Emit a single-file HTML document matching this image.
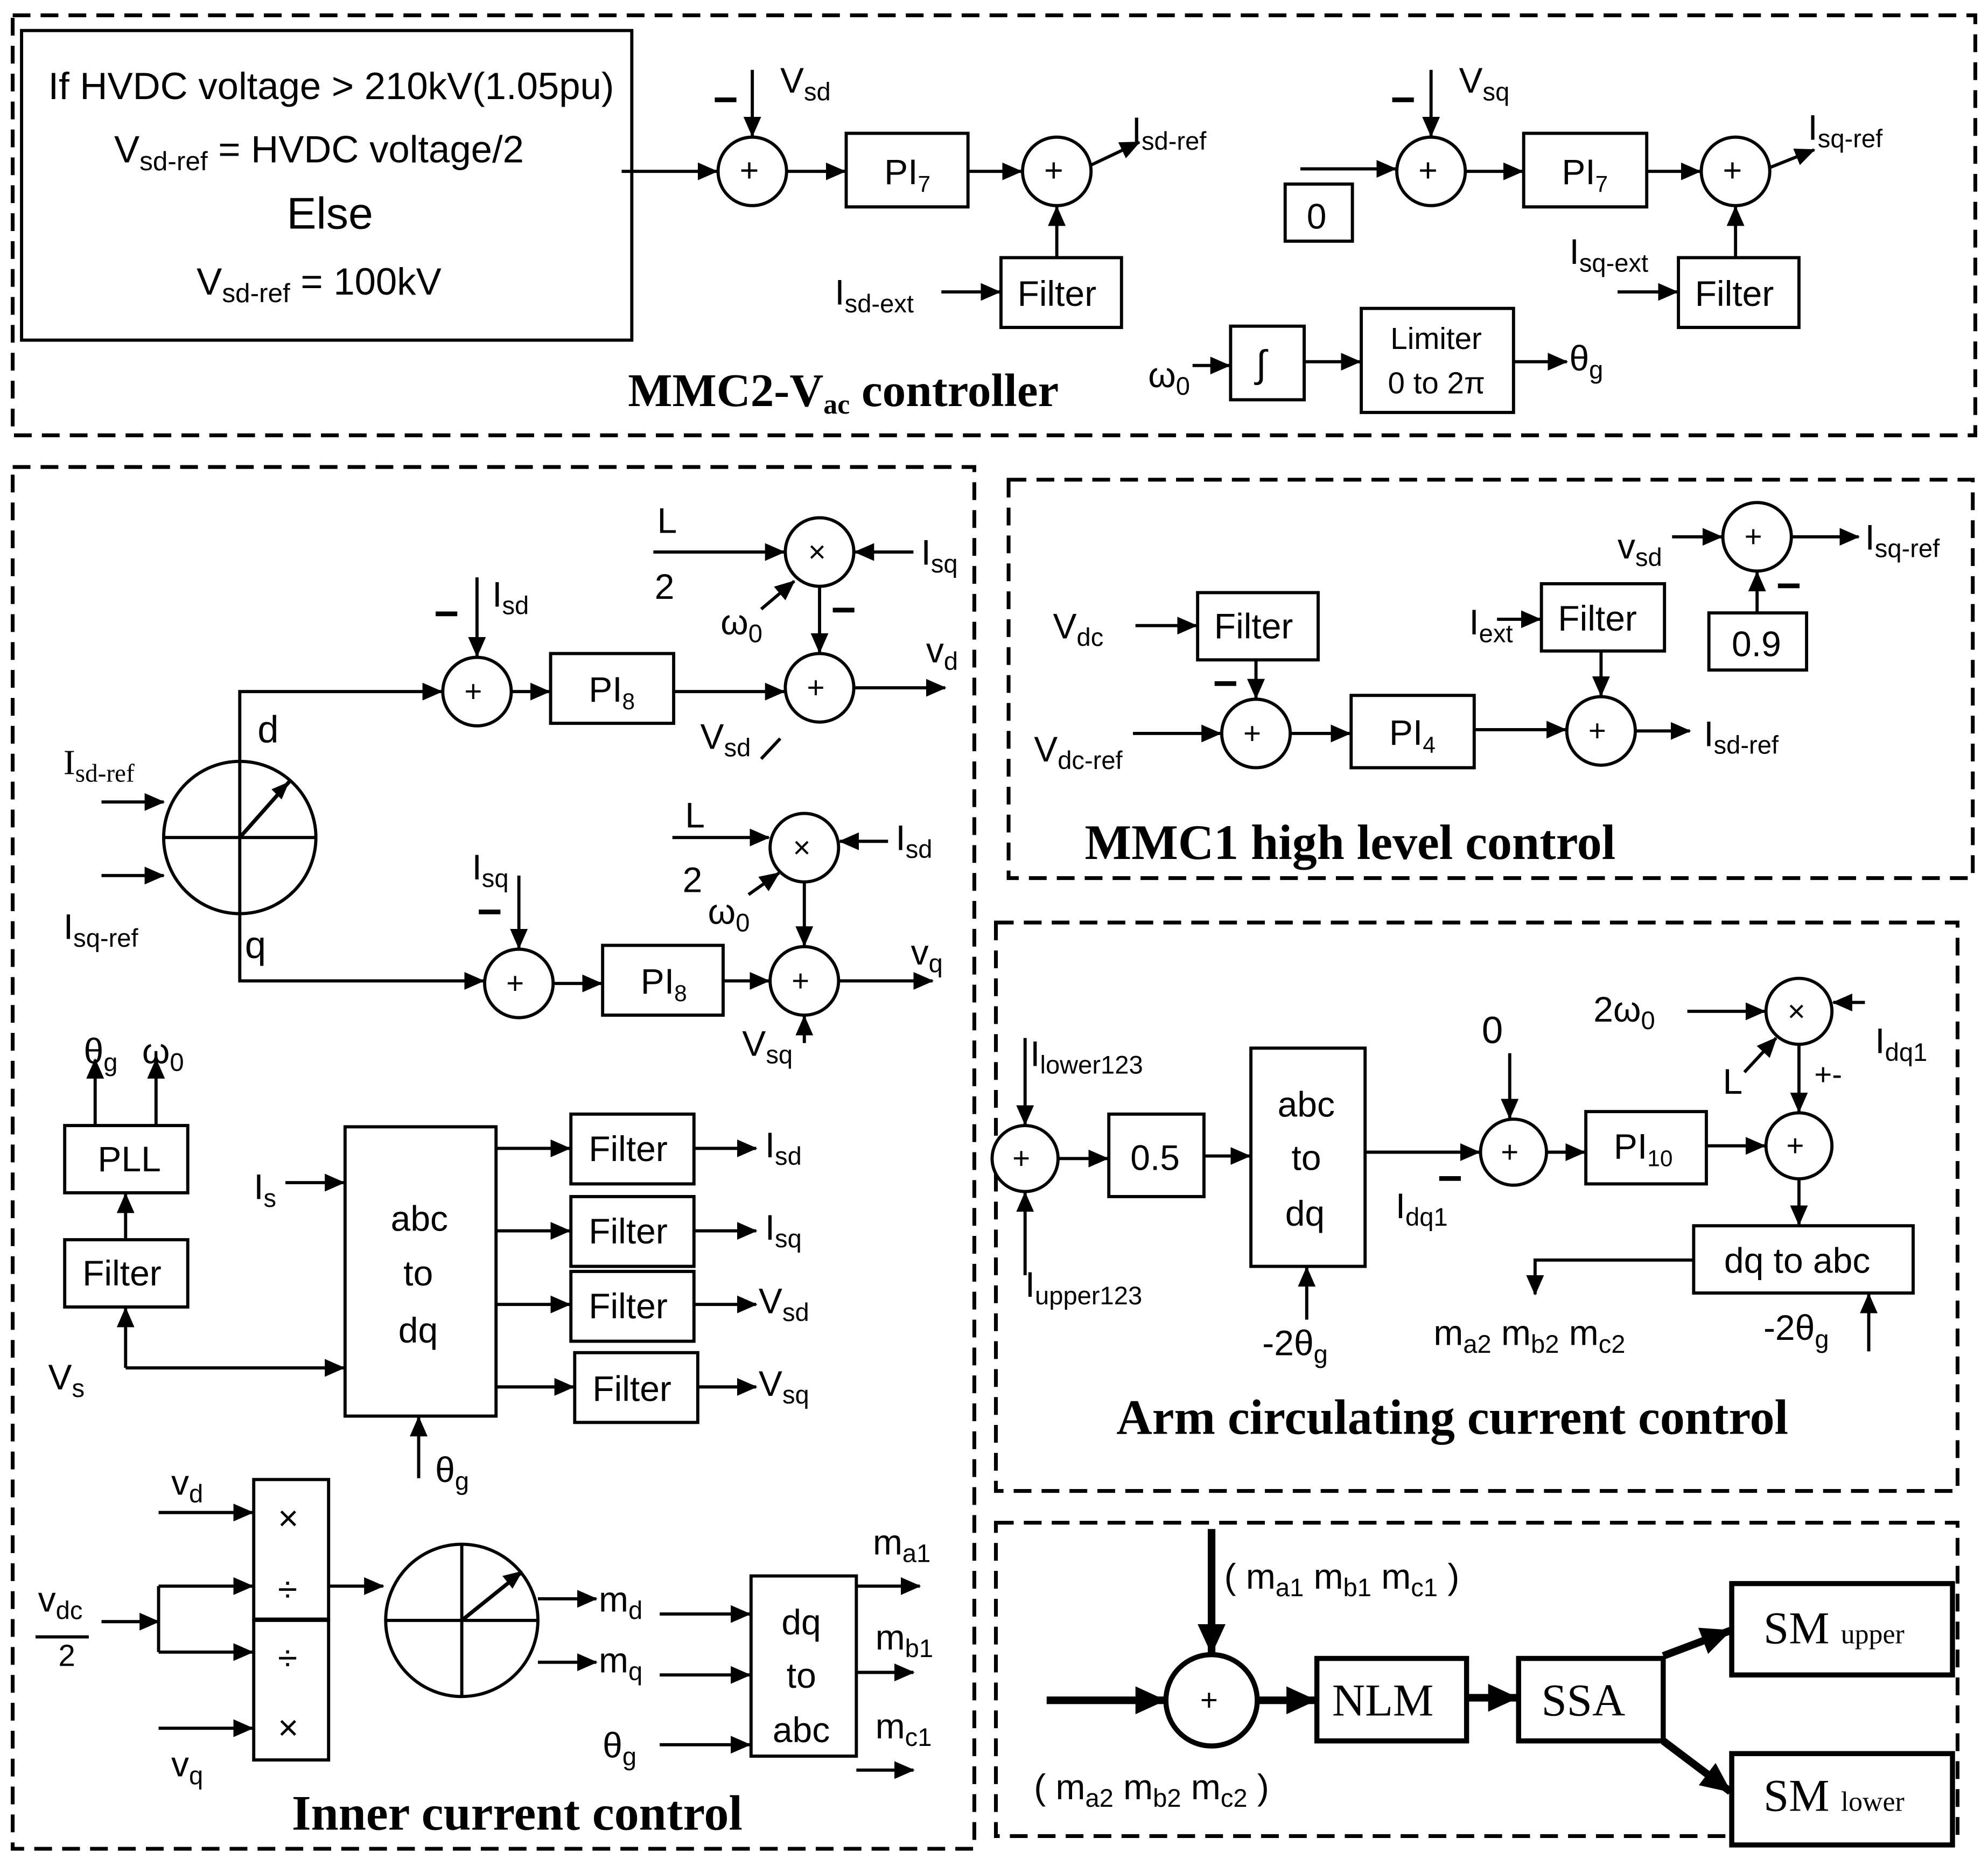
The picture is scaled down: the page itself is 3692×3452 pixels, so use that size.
<!DOCTYPE html>
<html><head><meta charset="utf-8"><style>html,body{margin:0;padding:0;background:#fff}svg{display:block}</style></head>
<body>
<svg xmlns="http://www.w3.org/2000/svg" width="3692" height="3452" viewBox="0 0 1567 1465">
<defs>
<marker id="a" markerWidth="16" markerHeight="14" refX="15" refY="7" orient="auto" markerUnits="userSpaceOnUse"><path d="M0,0 L16,7 L0,14 z" fill="#000"/></marker>
<marker id="b" markerWidth="24" markerHeight="22" refX="23" refY="11" orient="auto" markerUnits="userSpaceOnUse"><path d="M0,0 L24,11 L0,22 z" fill="#000"/></marker>
</defs>
<rect width="1567" height="1465" fill="#fff"/>
<g fill="none" stroke="#000" stroke-width="3" stroke-dasharray="14,8">
<rect x="10" y="12" width="1547" height="331"/>
<rect x="10" y="368" width="758" height="1089"/>
<rect x="795" y="378" width="760" height="314"/>
<rect x="785" y="727" width="758" height="448"/>
<rect x="785" y="1200" width="758" height="247"/>
</g>
<g fill="#fff" stroke="#000" stroke-width="2.5">
<rect x="17" y="24" width="481" height="244"/>
<circle cx="593" cy="135" r="27"/><rect x="667" y="105" width="96" height="58"/><circle cx="833" cy="135" r="27"/><rect x="789" y="203" width="95" height="55"/>
<circle cx="1128" cy="135" r="27"/><rect x="1013" y="145" width="53" height="45"/><rect x="1201" y="105" width="97" height="58"/><circle cx="1368" cy="135" r="27"/><rect x="1323" y="203" width="95" height="55"/>
<rect x="970" y="257" width="58" height="58"/><rect x="1073" y="243" width="120" height="82"/>
<circle cx="189" cy="660" r="60"/>
<circle cx="376" cy="545" r="27"/><rect x="434" y="515" width="97" height="55"/><circle cx="646" cy="542" r="27"/><circle cx="646" cy="435" r="27"/>
<circle cx="409" cy="775" r="27"/><rect x="475" y="745" width="95" height="55"/><circle cx="634" cy="773" r="27"/><circle cx="634" cy="668" r="27"/>
<rect x="51" y="887" width="97" height="53"/><rect x="51" y="977" width="97" height="53"/><rect x="272" y="888" width="119" height="228"/>
<rect x="450" y="878" width="97" height="55"/><rect x="450" y="943" width="97" height="55"/><rect x="450" y="1002" width="97" height="55"/><rect x="453" y="1066" width="97" height="55"/>
<rect x="200" y="1166" width="59" height="110"/><rect x="200" y="1277" width="59" height="110"/>
<circle cx="364" cy="1277" r="60"/><rect x="592" y="1242" width="83" height="142"/>
<rect x="944" y="467" width="95" height="53"/><circle cx="990" cy="578" r="27"/><rect x="1065" y="548" width="97" height="57"/><circle cx="1262" cy="576" r="27"/>
<rect x="1215" y="460" width="97" height="53"/><circle cx="1385" cy="423" r="27"/><rect x="1347" y="483" width="77" height="45"/>
<circle cx="808" cy="913" r="26"/><rect x="874" y="878" width="75" height="65"/><rect x="986" y="826" width="90" height="172"/>
<circle cx="1193" cy="908" r="26"/><rect x="1250" y="876" width="95" height="57"/><circle cx="1418" cy="903" r="26"/><circle cx="1418" cy="797" r="26"/><rect x="1335" y="966" width="173" height="53"/>
</g>
<g fill="#fff" stroke="#000" stroke-width="4">
<circle cx="955" cy="1340" r="36"/><rect x="1038" y="1307" width="118" height="65"/><rect x="1197" y="1307" width="114" height="65"/><rect x="1365" y="1248" width="174" height="72"/><rect x="1365" y="1382" width="174" height="72"/>
</g>
<g fill="none" stroke="#000" stroke-width="2.5" marker-end="url(#a)">
<path d="M490,135H565"/><path d="M593,55V107"/><path d="M620,135H666"/><path d="M763,135H805"/><path d="M860,130L898,112"/><path d="M833,203V163"/><path d="M742,230H788"/>
<path d="M1025,133H1100"/><path d="M1128,55V107"/><path d="M1155,135H1200"/><path d="M1298,135H1340"/><path d="M1395,132L1430,118"/><path d="M1368,203V163"/><path d="M1275,230H1322"/>
<path d="M940,288H969"/><path d="M1028,285H1072"/><path d="M1193,285H1235"/>
<path d="M80,632H129"/><path d="M80,690H129"/><path d="M189,600V545H348"/><path d="M189,720V773H381"/>
<path d="M376,455V517"/><path d="M403,545H433"/><path d="M531,545H618"/><path d="M673,542H745"/>
<path d="M515,435H618"/><path d="M720,435H674"/><path d="M600,480L626,458"/><path d="M646,462V514"/>
<path d="M409,690V747"/><path d="M436,775H474"/><path d="M570,773H606"/><path d="M661,773H735"/><path d="M634,822V801"/>
<path d="M530,660H606"/><path d="M700,663H662"/><path d="M590,705L614,688"/><path d="M634,695V745"/>
<path d="M75,887V835"/><path d="M123,887V835"/><path d="M99,977V941"/><path d="M99,1078V1031"/><path d="M99,1078H271"/>
<path d="M225,932H271"/><path d="M330,1165V1117"/>
<path d="M391,905H449"/><path d="M547,905H596"/><path d="M391,970H449"/><path d="M547,970H596"/><path d="M391,1028H449"/><path d="M547,1028H596"/><path d="M391,1093H452"/><path d="M550,1093H596"/>
<path d="M125,1192H199"/><path d="M125,1362H199"/><path d="M125,1250H199"/><path d="M125,1302H199"/><path d="M259,1250H302"/>
<path d="M80,1278H125"/>
<path d="M424,1260H470"/><path d="M424,1310H470"/><path d="M520,1272H591"/><path d="M520,1320H591"/><path d="M520,1375H591"/>
<path d="M675,1250H725"/><path d="M675,1318H720"/><path d="M675,1395H720"/>
<path d="M895,493H943"/><path d="M990,520V550"/><path d="M893,578H962"/><path d="M1017,578H1064"/><path d="M1162,575H1234"/><path d="M1289,576H1332"/>
<path d="M1180,488H1214"/><path d="M1262,513V548"/><path d="M1318,423H1357"/><path d="M1412,423H1465"/><path d="M1385,483V451"/>
<path d="M808,818V886"/><path d="M808,1005V940"/><path d="M834,913H873"/><path d="M949,911H985"/><path d="M1030,1040V999"/><path d="M1076,908H1166"/>
<path d="M1190,830V881"/><path d="M1220,908H1249"/><path d="M1345,903H1391"/><path d="M1330,797H1391"/><path d="M1470,790H1445"/><path d="M1375,845L1400,818"/><path d="M1418,823V876"/><path d="M1418,930V965"/>
<path d="M1335,993H1210V1020"/><path d="M1473,1065V1020"/>
</g>
<g fill="none" stroke="#000" stroke-width="6" marker-end="url(#b)">
<path d="M955,1205V1303"/><path d="M825,1340H918"/><path d="M991,1340H1037"/><path d="M1156,1338H1196"/><path d="M1311,1305L1364,1285"/><path d="M1311,1372L1364,1412"/>
</g>
<g fill="none" stroke="#000" stroke-width="2.5">
<path d="M129,660H249M189,600V720"/><path d="M304,1277H424M364,1217V1337"/>
<path d="M125,1250V1302"/><path d="M28,1290H70"/><path d="M600,598L615,582"/>
</g>
<g stroke="#000" stroke-width="3"><path d="M189,660L228,616"/><path d="M364,1277L410,1240"/></g>
<g fill="#000"><path d="M228,616L214,622L222,630z"/><path d="M412,1238L396,1242L404,1252z"/></g>
<g font-family="Liberation Sans, sans-serif" font-size="28" fill="#000">
<g font-size="30">
<text x="38" y="78">If HVDC voltage &gt; 210kV(1.05pu)</text>
<text x="90" y="128">V<tspan font-size="21" dy="6">sd-ref</tspan><tspan dy="-6"> = HVDC voltage/2</tspan></text>
<text x="226" y="180" font-size="35">Else</text>
<text x="155" y="232">V<tspan font-size="21" dy="6">sd-ref</tspan><tspan dy="-6"> = 100kV</tspan></text>
</g>
<text x="583" y="143" font-size="26">+</text><text x="823" y="143" font-size="26">+</text><text x="1118" y="143" font-size="26">+</text><text x="1358" y="143" font-size="26">+</text>
<text x="562" y="90" font-size="34" font-weight="bold">−</text><text x="1096" y="90" font-size="34" font-weight="bold">−</text>
<text x="615" y="73">V<tspan font-size="20" dy="6">sd</tspan></text>
<text x="697" y="145">PI<tspan font-size="18" dy="6">7</tspan></text>
<text x="892" y="112">I<tspan font-size="20" dy="6">sd-ref</tspan></text>
<text x="802" y="241">Filter</text>
<text x="658" y="240">I<tspan font-size="20" dy="6">sd-ext</tspan></text>
<text x="1150" y="73">V<tspan font-size="20" dy="6">sq</tspan></text>
<text x="1030" y="180">0</text>
<text x="1231" y="145">PI<tspan font-size="18" dy="6">7</tspan></text>
<text x="1425" y="110">I<tspan font-size="20" dy="6">sq-ref</tspan></text>
<text x="1336" y="241">Filter</text>
<text x="1237" y="208">I<tspan font-size="20" dy="6">sq-ext</tspan></text>
<text x="905" y="305">ω<tspan font-size="20" dy="6">0</tspan></text>
<text x="990" y="297" font-size="30">∫</text>
<text x="1096" y="275" font-size="24">Limiter</text><text x="1094" y="310" font-size="24">0 to 2π</text>
<text x="1237" y="292">θ<tspan font-size="20" dy="6">g</tspan></text>
<text x="495" y="320" font-family="Liberation Serif, serif" font-weight="bold" font-size="37">MMC2-V<tspan font-size="22" dy="6">ac</tspan><tspan dy="-6">  controller</tspan></text>

<text x="50" y="610" font-family="Liberation Serif, serif">I<tspan font-size="20" dy="6">sd-ref</tspan></text>
<text x="50" y="740">I<tspan font-size="20" dy="6">sq-ref</tspan></text>
<text x="203" y="585" font-size="30">d</text><text x="193" y="755" font-size="30">q</text>
<text x="366" y="553" font-size="24">+</text><text x="636" y="550" font-size="24">+</text><text x="637" y="443" font-size="24">×</text>
<text x="342" y="495" font-size="34" font-weight="bold">−</text><text x="655" y="492" font-size="34" font-weight="bold">−</text>
<text x="388" y="478">I<tspan font-size="20" dy="6">sd</tspan></text>
<text x="464" y="553">PI<tspan font-size="18" dy="6">8</tspan></text>
<text x="730" y="522">v<tspan font-size="20" dy="6">d</tspan></text>
<text x="552" y="590">V<tspan font-size="20" dy="6">sd</tspan></text>
<text x="518" y="420">L</text><text x="516" y="472">2</text>
<text x="726" y="445">I<tspan font-size="20" dy="6">sq</tspan></text>
<text x="568" y="500">ω<tspan font-size="20" dy="6">0</tspan></text>
<text x="399" y="783" font-size="24">+</text><text x="624" y="781" font-size="24">+</text><text x="625" y="676" font-size="24">×</text>
<text x="376" y="730" font-size="34" font-weight="bold">−</text>
<text x="372" y="693">I<tspan font-size="20" dy="6">sq</tspan></text>
<text x="505" y="783">PI<tspan font-size="18" dy="6">8</tspan></text>
<text x="718" y="760">v<tspan font-size="20" dy="6">q</tspan></text>
<text x="585" y="832">V<tspan font-size="20" dy="6">sq</tspan></text>
<text x="540" y="652">L</text><text x="538" y="703">2</text>
<text x="706" y="670">I<tspan font-size="20" dy="6">sd</tspan></text>
<text x="558" y="728">ω<tspan font-size="20" dy="6">0</tspan></text>
<text x="66" y="838">θ<tspan font-size="20" dy="6">g</tspan></text><text x="112" y="838">ω<tspan font-size="20" dy="6">0</tspan></text>
<text x="77" y="923">PLL</text><text x="65" y="1013">Filter</text>
<text x="38" y="1095">V<tspan font-size="20" dy="6">s</tspan></text>
<text x="200" y="945">I<tspan font-size="20" dy="6">s</tspan></text>
<text x="308" y="970">abc</text><text x="318" y="1013">to</text><text x="314" y="1058">dq</text>
<text x="343" y="1168">θ<tspan font-size="20" dy="6">g</tspan></text>
<text x="464" y="915">Filter</text><text x="464" y="980">Filter</text><text x="464" y="1039">Filter</text><text x="467" y="1104">Filter</text>
<text x="603" y="912">I<tspan font-size="20" dy="6">sd</tspan></text><text x="603" y="977">I<tspan font-size="20" dy="6">sq</tspan></text>
<text x="598" y="1035">V<tspan font-size="20" dy="6">sd</tspan></text><text x="598" y="1100">V<tspan font-size="20" dy="6">sq</tspan></text>
<text x="135" y="1178">v<tspan font-size="20" dy="6">d</tspan></text><text x="135" y="1400">v<tspan font-size="20" dy="6">q</tspan></text>
<text x="30" y="1270">v<tspan font-size="20" dy="6">dc</tspan></text><text x="46" y="1313" font-size="24">2</text>
<text x="219" y="1206">×</text><text x="219" y="1262">÷</text><text x="219" y="1316">÷</text><text x="219" y="1371">×</text>
<text x="472" y="1270">m<tspan font-size="20" dy="6">d</tspan></text><text x="472" y="1318">m<tspan font-size="20" dy="6">q</tspan></text>
<text x="475" y="1385">θ<tspan font-size="20" dy="6">g</tspan></text>
<text x="616" y="1288">dq</text><text x="620" y="1330">to</text><text x="609" y="1373">abc</text>
<text x="688" y="1225">m<tspan font-size="20" dy="6">a1</tspan></text><text x="690" y="1300">m<tspan font-size="20" dy="6">b1</tspan></text><text x="690" y="1370">m<tspan font-size="20" dy="6">c1</tspan></text>
<text x="230" y="1442" font-family="Liberation Serif, serif" font-weight="bold" font-size="39">Inner current control</text>

<text x="830" y="503">V<tspan font-size="20" dy="6">dc</tspan></text>
<text x="957" y="503">Filter</text>
<text x="956" y="550" font-size="34" font-weight="bold">−</text>
<text x="815" y="600">V<tspan font-size="20" dy="6">dc-ref</tspan></text>
<text x="980" y="586" font-size="24">+</text><text x="1252" y="584" font-size="24">+</text><text x="1375" y="431" font-size="24">+</text>
<text x="1095" y="587">PI<tspan font-size="18" dy="6">4</tspan></text>
<text x="1343" y="588">I<tspan font-size="20" dy="6">sd-ref</tspan></text>
<text x="1158" y="500">I<tspan font-size="20" dy="6">ext</tspan></text>
<text x="1228" y="497">Filter</text>
<text x="1275" y="440">v<tspan font-size="20" dy="6">sd</tspan></text>
<text x="1470" y="433">I<tspan font-size="20" dy="6">sq-ref</tspan></text>
<text x="1365" y="517">0.9</text>
<text x="1400" y="473" font-size="34" font-weight="bold">−</text>
<text x="855" y="677" font-family="Liberation Serif, serif" font-weight="bold" font-size="39">MMC1 high level control</text>

<text x="812" y="840">I<tspan font-size="20" dy="6">lower123</tspan></text>
<text x="808" y="1022">I<tspan font-size="20" dy="6">upper123</tspan></text>
<text x="798" y="921" font-size="24">+</text><text x="1183" y="916" font-size="24">+</text><text x="1408" y="911" font-size="24">+</text><text x="1409" y="805" font-size="24">×</text>
<text x="891" y="922">0.5</text>
<text x="1007" y="880">abc</text><text x="1018" y="922">to</text><text x="1013" y="966">dq</text>
<text x="995" y="1068">-2θ<tspan font-size="20" dy="6">g</tspan></text>
<text x="1100" y="960">I<tspan font-size="20" dy="6">dq1</tspan></text>
<text x="1133" y="940" font-size="34" font-weight="bold">−</text>
<text x="1168" y="822" font-size="30">0</text>
<text x="1272" y="913">PI<tspan font-size="18" dy="6">10</tspan></text>
<text x="1256" y="805">2ω<tspan font-size="20" dy="6">0</tspan></text>
<text x="1478" y="830">I<tspan font-size="20" dy="6">dq1</tspan></text>
<text x="1358" y="862">L</text><text x="1430" y="855" font-size="24">+-</text>
<text x="1359" y="1003">dq to abc</text>
<text x="1130" y="1060">m<tspan font-size="20" dy="6">a2</tspan><tspan dy="-6"> m</tspan><tspan font-size="20" dy="6">b2</tspan><tspan dy="-6"> m</tspan><tspan font-size="20" dy="6">c2</tspan></text>
<text x="1390" y="1056">-2θ<tspan font-size="20" dy="6">g</tspan></text>
<text x="880" y="1130" font-family="Liberation Serif, serif" font-weight="bold" font-size="39">Arm circulating current control</text>

<text x="965" y="1252">( m<tspan font-size="20" dy="6">a1</tspan><tspan dy="-6"> m</tspan><tspan font-size="20" dy="6">b1</tspan><tspan dy="-6"> m</tspan><tspan font-size="20" dy="6">c1</tspan><tspan dy="-6"> )</tspan></text>
<text x="815" y="1418">( m<tspan font-size="20" dy="6">a2</tspan><tspan dy="-6"> m</tspan><tspan font-size="20" dy="6">b2</tspan><tspan dy="-6"> m</tspan><tspan font-size="20" dy="6">c2</tspan><tspan dy="-6"> )</tspan></text>
<text x="946" y="1348" font-size="24">+</text>
<g font-family="Liberation Serif, serif" font-size="36">
<text x="1050" y="1352">NLM</text><text x="1215" y="1352">SSA</text>
<text x="1390" y="1295">SM <tspan font-size="22">upper</tspan></text>
<text x="1390" y="1427">SM <tspan font-size="22">lower</tspan></text>
</g>
</g>
</svg>
</body></html>
